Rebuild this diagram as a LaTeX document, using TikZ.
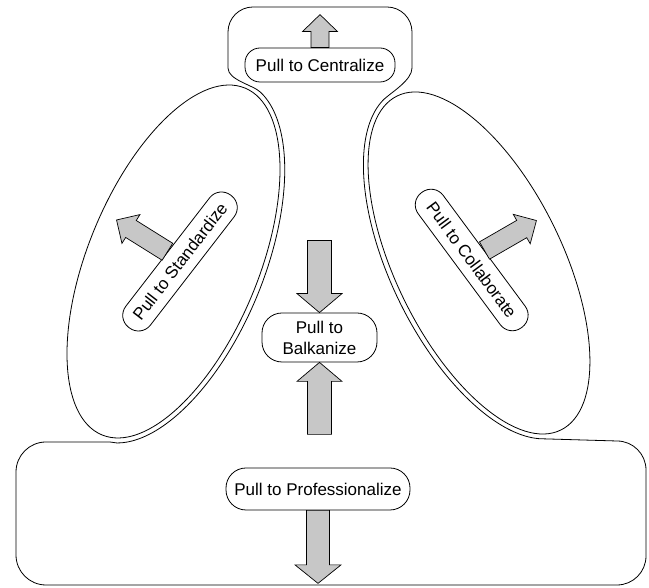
\documentclass[tikz,border=0pt]{standalone}
\usepackage{fontspec}
\setmainfont{Liberation Sans}

% block arrow: #1 start point, #2 direction, #3 length, #4 shaft half width,
% #5 head half width, #6 head length
\newcommand{\blockarrow}[6]{%
  \begin{scope}[shift={#1}, rotate=#2]
    \draw[barrow] (0,-#4) -- ({#3-#6},-#4) -- ({#3-#6},-#5) -- (#3,0)
      -- ({#3-#6},#5) -- ({#3-#6},#4) -- (0,#4) -- cycle;
  \end{scope}}

\tikzset{
  pill/.style={draw, line width=0.8pt, fill=white, rounded corners=#1,
    align=center, inner sep=0pt, font=\fontsize{17}{21}\selectfont},
  pill/.default=15pt,
  barrow/.style={draw, line width=0.7pt, fill=black!22, line join=miter},
  region/.style={draw, line width=0.8pt, line join=round}
}

\begin{document}
\begin{tikzpicture}[x=1pt, y=1pt]
\useasboundingbox (0,0) rectangle (649,588);

% the two tilted ellipses
\draw[region, rotate around={67.6:(173.5,326.5)}] (173.5,326.5) ellipse [x radius=187.6, y radius=85.4];
\draw[region, rotate around={116.1:(479,325)}] (479,325) ellipse [x radius=186, y radius=83.4];

% one continuous contour: top box, inner sides of the ellipses, bottom box
\draw[region]
  (228,520) -- (228,556) arc[start angle=180, end angle=90, radius=25]
  -- (387,581) arc[start angle=90, end angle=0, radius=25]
  -- (412,520) .. controls (412,508) and (392,496) .. (384.8,489.4)
  -- plot[domain=8:167.6, samples=90, variable=\t]
     ({479 + 191*cos(\t)*(-0.440) + 88.4*sin(\t)*(-0.898)},
      {325 + 191*cos(\t)*0.898 + 88.4*sin(\t)*(-0.440)})
  -- (617,147) arc[start angle=90, end angle=0, radius=29]
  -- (646,32) arc[start angle=0, end angle=-90, radius=29]
  -- (46,3) arc[start angle=270, end angle=180, radius=30]
  -- (16,116) arc[start angle=180, end angle=90, radius=30]
  -- (110,146)
  -- plot[domain=-169.4:-10, samples=90, variable=\t]
     ({173.5 + 192.6*cos(\t)*0.381 + 90.4*sin(\t)*(-0.925)},
      {326.5 + 192.6*cos(\t)*0.925 + 90.4*sin(\t)*0.381})
  .. controls (253,503) and (228,508) .. (228,520) -- cycle;

% labelled pulls
\node[pill, minimum width=150pt, minimum height=34pt] (cen) at (320,523) {Pull to Centralize};
\node[pill=20pt, minimum width=115pt, minimum height=49pt] (bal) at (319.5,250.5) {Pull to\\Balkanize};
\node[pill=20pt, minimum width=184pt, minimum height=42pt] (pro) at (318,99) {Pull to Professionalize};
\node[pill, rotate=52.3, minimum width=167pt, minimum height=31pt] (std) at (180,326.5) {Pull to Standardize};
\node[pill, rotate=-53.5, minimum width=168pt, minimum height=31pt] (col) at (471.7,328) {Pull to Collaborate};

% block arrows
\blockarrow{(cen.north)}{90}{33}{9}{17.5}{17}
\blockarrow{([yshift=72pt]bal.north)}{-90}{72}{12}{22.5}{19}
\blockarrow{([yshift=-72pt]bal.south)}{90}{72}{12}{22.5}{19}
\blockarrow{(pro.south)}{-90}{73}{11.5}{23}{18.5}
\blockarrow{(std.north)}{148}{60}{10}{17}{17}
\blockarrow{(col.north)}{30}{60}{10}{17}{17}
\end{tikzpicture}
\end{document}
